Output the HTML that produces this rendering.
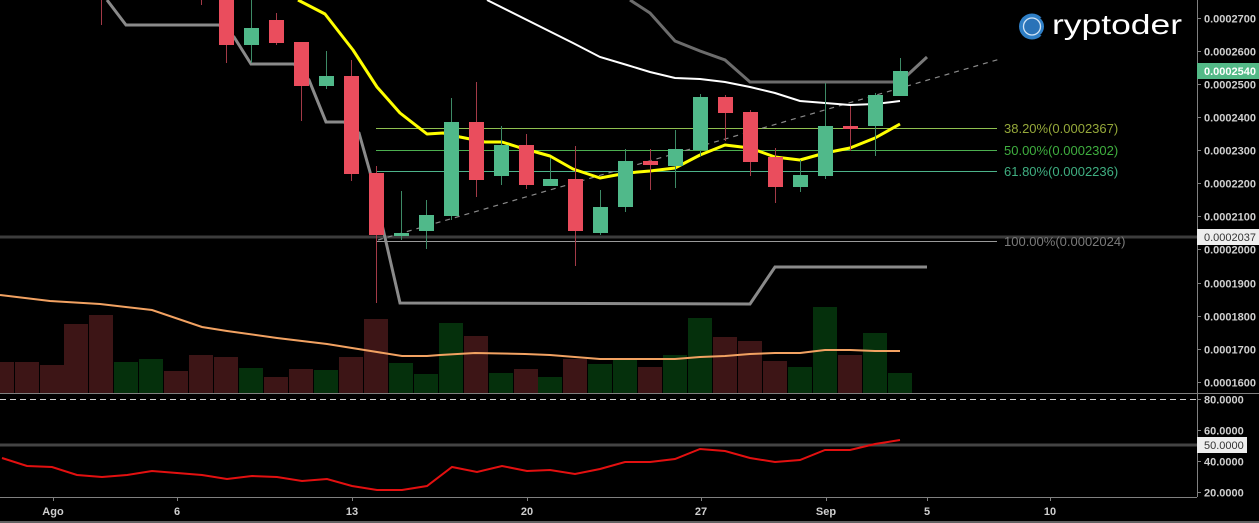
<!DOCTYPE html>
<html><head><meta charset="utf-8"><style>
html,body{margin:0;padding:0;background:#000;}
svg{display:block;}
text{font-family:"Liberation Sans",sans-serif;}
</style></head><body>
<svg width="1259" height="523" viewBox="0 0 1259 523" xmlns="http://www.w3.org/2000/svg">
<rect width="1259" height="523" fill="#000"/>

<!-- volume bars -->
<g>
<rect x="0" y="362" width="14" height="31" fill="#3d1516"/>
<rect x="15" y="362" width="24" height="31" fill="#3d1516"/>
<rect x="40" y="365" width="24" height="28" fill="#3d1516"/>
<rect x="64" y="324" width="24" height="69" fill="#3d1516"/>
<rect x="89" y="315" width="24" height="78" fill="#3d1516"/>
<rect x="114" y="362" width="24" height="31" fill="#05300c"/>
<rect x="139" y="359" width="24" height="34" fill="#05300c"/>
<rect x="164" y="371" width="24" height="22" fill="#3d1516"/>
<rect x="189" y="355" width="24" height="38" fill="#3d1516"/>
<rect x="214" y="357" width="24" height="36" fill="#3d1516"/>
<rect x="239" y="368" width="24" height="25" fill="#05300c"/>
<rect x="264" y="377" width="24" height="16" fill="#3d1516"/>
<rect x="289" y="369" width="24" height="24" fill="#3d1516"/>
<rect x="314" y="370" width="24" height="23" fill="#05300c"/>
<rect x="339" y="357" width="24" height="36" fill="#3d1516"/>
<rect x="364" y="319" width="24" height="74" fill="#3d1516"/>
<rect x="389" y="363" width="24" height="30" fill="#05300c"/>
<rect x="414" y="374" width="24" height="19" fill="#05300c"/>
<rect x="439" y="323" width="24" height="70" fill="#05300c"/>
<rect x="464" y="336" width="24" height="57" fill="#3d1516"/>
<rect x="489" y="373" width="24" height="20" fill="#05300c"/>
<rect x="514" y="369" width="24" height="24" fill="#3d1516"/>
<rect x="538" y="377" width="24" height="16" fill="#05300c"/>
<rect x="563" y="359" width="24" height="34" fill="#3d1516"/>
<rect x="588" y="364" width="24" height="29" fill="#05300c"/>
<rect x="613" y="360" width="24" height="33" fill="#05300c"/>
<rect x="638" y="367" width="24" height="26" fill="#3d1516"/>
<rect x="663" y="355" width="24" height="38" fill="#05300c"/>
<rect x="688" y="318" width="24" height="75" fill="#05300c"/>
<rect x="713" y="337" width="24" height="56" fill="#3d1516"/>
<rect x="738" y="341" width="24" height="52" fill="#3d1516"/>
<rect x="763" y="361" width="24" height="32" fill="#3d1516"/>
<rect x="788" y="367" width="24" height="26" fill="#05300c"/>
<rect x="813" y="307" width="24" height="86" fill="#05300c"/>
<rect x="838" y="355" width="24" height="38" fill="#3d1516"/>
<rect x="863" y="333" width="24" height="60" fill="#05300c"/>
<rect x="888" y="373" width="24" height="20" fill="#05300c"/>
</g>
<!-- volume MA -->
<polyline fill="none" stroke="#f2a262" stroke-width="2" points="0,295 50,301 100,304 152,310 202,327 227,331 277,338 327,344 352,348 377,352 402,356 427,356 440,355 475,353 525,354 550,355 600,359 675,359 700,357 725,356 750,354 775,353 800,353 825,350 850,350 875,351 900,351"/>

<!-- horizontal lines -->
<line x1="0" y1="237" x2="1197" y2="237" stroke="#3c3c3c" stroke-width="3"/>
<line x1="376" y1="241.5" x2="997" y2="241.5" stroke="#9a9a9a" stroke-width="1"/>
<line x1="376" y1="128.5" x2="997" y2="128.5" stroke="#8fc050" stroke-width="1"/>
<line x1="376" y1="150.5" x2="997" y2="150.5" stroke="#4caf50" stroke-width="1"/>
<line x1="376" y1="171.5" x2="997" y2="171.5" stroke="#4db38a" stroke-width="1"/>
<text x="1004" y="133" font-size="13" fill="#95a83a">38.20%(0.0002367)</text>
<text x="1004" y="155" font-size="13" fill="#3fae3f">50.00%(0.0002302)</text>
<text x="1004" y="176" font-size="13" fill="#3fae80">61.80%(0.0002236)</text>
<text x="1004" y="246" font-size="13" fill="#7a7a7a">100.00%(0.0002024)</text>

<!-- trend dashed -->
<line x1="378" y1="240" x2="1000" y2="59" stroke="#8a8a8a" stroke-width="1.2" stroke-dasharray="5,5"/>

<!-- gray lines -->
<polyline fill="none" stroke="#8a8a8a" stroke-width="3" points="107,0 126,25 219,25 234,37 251,64 294,64 309,80 326,122 344,122 359,133 370,172 400,303 750,304 775,267 927,267"/>
<polyline fill="none" stroke="#6c6c6c" stroke-width="3" points="630,0 650,13 675,41 700,51 725,60 750,82 900,82"/>
<polyline fill="none" stroke="#7a7a7a" stroke-width="3" points="900,82 927,57"/>
<!-- white MA -->
<polyline fill="none" stroke="#ffffff" stroke-width="2" points="487,0 553,33 573,43 600,57 627,65 650,72 675,78 700,79 725,82 750,87 775,93 800,101 825,103 850,105 875,104 900,101"/>
<!-- yellow MA -->
<polyline fill="none" stroke="#ffff00" stroke-width="3" stroke-linejoin="round" points="298,0 325,14 353,50 377,87 400,113 427,134 443,133 460,137 485,142 502,142 518,147 550,156 573,169 600,178 627,173 650,171 675,168 700,155 725,145 750,148 775,157 800,160 825,153 850,148 875,138 900,124"/>

<!-- candles -->
<g>
<!-- wicks -->
<g stroke-width="1">
<line x1="101.5" y1="0" x2="101.5" y2="25" stroke="#a33a47"/>
<line x1="201.5" y1="0" x2="201.5" y2="5" stroke="#a33a47"/>
<line x1="226.5" y1="0" x2="226.5" y2="63" stroke="#a33a47"/>
<line x1="251.5" y1="0" x2="251.5" y2="63" stroke="#3d8a66"/>
<line x1="276.5" y1="13" x2="276.5" y2="45" stroke="#a33a47"/>
<line x1="301.5" y1="42" x2="301.5" y2="121" stroke="#a33a47"/>
<line x1="326.5" y1="51" x2="326.5" y2="89" stroke="#3d8a66"/>
<line x1="351.5" y1="60" x2="351.5" y2="181" stroke="#a33a47"/>
<line x1="376.5" y1="166" x2="376.5" y2="303" stroke="#a33a47"/>
<line x1="401.5" y1="191" x2="401.5" y2="240" stroke="#3d8a66"/>
<line x1="426.5" y1="200" x2="426.5" y2="249" stroke="#3d8a66"/>
<line x1="451.5" y1="98" x2="451.5" y2="220" stroke="#3d8a66"/>
<line x1="476.5" y1="82" x2="476.5" y2="197" stroke="#a33a47"/>
<line x1="501.5" y1="126" x2="501.5" y2="185" stroke="#3d8a66"/>
<line x1="526.5" y1="134" x2="526.5" y2="189" stroke="#a33a47"/>
<line x1="550.5" y1="158" x2="550.5" y2="186" stroke="#3d8a66"/>
<line x1="575.5" y1="146" x2="575.5" y2="266" stroke="#a33a47"/>
<line x1="600.5" y1="190" x2="600.5" y2="235" stroke="#3d8a66"/>
<line x1="625.5" y1="149" x2="625.5" y2="212" stroke="#3d8a66"/>
<line x1="650.5" y1="149" x2="650.5" y2="190" stroke="#a33a47"/>
<line x1="675.5" y1="130" x2="675.5" y2="188" stroke="#3d8a66"/>
<line x1="700.5" y1="94" x2="700.5" y2="156" stroke="#3d8a66"/>
<line x1="725.5" y1="95" x2="725.5" y2="141" stroke="#a33a47"/>
<line x1="750.5" y1="110" x2="750.5" y2="176" stroke="#a33a47"/>
<line x1="775.5" y1="148" x2="775.5" y2="203" stroke="#a33a47"/>
<line x1="800.5" y1="160" x2="800.5" y2="192" stroke="#3d8a66"/>
<line x1="825.5" y1="83" x2="825.5" y2="179" stroke="#3d8a66"/>
<line x1="850.5" y1="106" x2="850.5" y2="151" stroke="#a33a47"/>
<line x1="875.5" y1="93" x2="875.5" y2="156" stroke="#3d8a66"/>
<line x1="900.5" y1="58" x2="900.5" y2="96" stroke="#3d8a66"/>
</g>
<!-- bodies -->
<rect x="219" y="0" width="15" height="45" fill="#ea4d5d"/>
<rect x="244" y="28" width="15" height="17" fill="#50b98a"/>
<rect x="269" y="20" width="15" height="23" fill="#ea4d5d"/>
<rect x="294" y="42" width="15" height="44" fill="#ea4d5d"/>
<rect x="319" y="76" width="15" height="10" fill="#50b98a"/>
<rect x="344" y="76" width="15" height="98" fill="#ea4d5d"/>
<rect x="369" y="173" width="15" height="62" fill="#ea4d5d"/>
<rect x="394" y="233" width="15" height="3" fill="#50b98a"/>
<rect x="419" y="215" width="15" height="16" fill="#50b98a"/>
<rect x="444" y="122" width="15" height="94" fill="#50b98a"/>
<rect x="469" y="122" width="15" height="58" fill="#ea4d5d"/>
<rect x="494" y="145" width="15" height="31" fill="#50b98a"/>
<rect x="519" y="145" width="15" height="40" fill="#ea4d5d"/>
<rect x="543" y="179" width="15" height="7" fill="#50b98a"/>
<rect x="568" y="179" width="15" height="52" fill="#ea4d5d"/>
<rect x="593" y="207" width="15" height="26" fill="#50b98a"/>
<rect x="618" y="161" width="15" height="46" fill="#50b98a"/>
<rect x="643" y="161" width="15" height="4" fill="#ea4d5d"/>
<rect x="668" y="149" width="15" height="17" fill="#50b98a"/>
<rect x="693" y="97" width="15" height="53" fill="#50b98a"/>
<rect x="718" y="97" width="15" height="16" fill="#ea4d5d"/>
<rect x="743" y="112" width="15" height="50" fill="#ea4d5d"/>
<rect x="768" y="157" width="15" height="30" fill="#ea4d5d"/>
<rect x="793" y="175" width="15" height="12" fill="#50b98a"/>
<rect x="818" y="126" width="15" height="50" fill="#50b98a"/>
<rect x="843" y="126" width="15" height="3" fill="#ea4d5d"/>
<rect x="868" y="95" width="15" height="31" fill="#50b98a"/>
<rect x="893" y="71" width="15" height="25" fill="#50b98a"/>
</g>

<!-- RSI panel -->
<line x1="0" y1="399.5" x2="1197" y2="399.5" stroke="#cfcfcf" stroke-width="1" stroke-dasharray="6,4"/>
<line x1="0" y1="445" x2="1197" y2="445" stroke="#444" stroke-width="3"/>
<polyline fill="none" stroke="#e31010" stroke-width="2" points="2,458 27,466 52,467 77,475 102,477 127,475 152,471 177,473 202,475 227,479 252,476 277,477 302,481 327,479 352,486 377,490 402,490 427,486 452,467 477,472 502,466 527,471 550,470 575,474 600,469 625,462 650,462 675,459 700,449 725,451 750,458 775,462 800,460 825,450 850,450 875,444 900,440"/>

<!-- frame lines -->
<line x1="0" y1="393.5" x2="1259" y2="393.5" stroke="#808080" stroke-width="1"/>
<line x1="0" y1="497.5" x2="1197" y2="497.5" stroke="#808080" stroke-width="1"/>
<line x1="0" y1="522" x2="1259" y2="522" stroke="#808080" stroke-width="1.5"/>
<line x1="1197.5" y1="0" x2="1197.5" y2="497" stroke="#808080" stroke-width="1"/>

<!-- price axis ticks -->
<g stroke="#808080" stroke-width="1">
<line x1="1197" y1="18.5" x2="1201" y2="18.5"/>
<line x1="1197" y1="51.5" x2="1201" y2="51.5"/>
<line x1="1197" y1="84.5" x2="1201" y2="84.5"/>
<line x1="1197" y1="117.5" x2="1201" y2="117.5"/>
<line x1="1197" y1="150.5" x2="1201" y2="150.5"/>
<line x1="1197" y1="183.5" x2="1201" y2="183.5"/>
<line x1="1197" y1="216.5" x2="1201" y2="216.5"/>
<line x1="1197" y1="249.5" x2="1201" y2="249.5"/>
<line x1="1197" y1="283.5" x2="1201" y2="283.5"/>
<line x1="1197" y1="316.5" x2="1201" y2="316.5"/>
<line x1="1197" y1="349.5" x2="1201" y2="349.5"/>
<line x1="1197" y1="382.5" x2="1201" y2="382.5"/>
<line x1="1197" y1="399.5" x2="1201" y2="399.5"/>
<line x1="1197" y1="430.5" x2="1201" y2="430.5"/>
<line x1="1197" y1="461.5" x2="1201" y2="461.5"/>
<line x1="1197" y1="492.5" x2="1201" y2="492.5"/>
<line x1="53.5" y1="497" x2="53.5" y2="501"/>
<line x1="177.5" y1="497" x2="177.5" y2="501"/>
<line x1="352.5" y1="497" x2="352.5" y2="501"/>
<line x1="527.5" y1="497" x2="527.5" y2="501"/>
<line x1="701.5" y1="497" x2="701.5" y2="501"/>
<line x1="826.5" y1="497" x2="826.5" y2="501"/>
<line x1="927.5" y1="497" x2="927.5" y2="501"/>
<line x1="1050.5" y1="497" x2="1050.5" y2="501"/>
</g>

<g font-size="11" font-weight="bold" fill="#cfcfcf">
<text x="1204" y="22.5">0.0002700</text>
<text x="1204" y="55.5">0.0002600</text>
<text x="1204" y="88.5">0.0002500</text>
<text x="1204" y="121.5">0.0002400</text>
<text x="1204" y="154.5">0.0002300</text>
<text x="1204" y="187.5">0.0002200</text>
<text x="1204" y="220.5">0.0002100</text>
<text x="1204" y="253.5">0.0002000</text>
<text x="1204" y="287.5">0.0001900</text>
<text x="1204" y="320.5">0.0001800</text>
<text x="1204" y="353.5">0.0001700</text>
<text x="1204" y="386.5">0.0001600</text>
<text x="1204" y="403.5">80.0000</text>
<text x="1204" y="434.5">60.0000</text>
<text x="1204" y="465.5">40.0000</text>
<text x="1204" y="496.5">20.0000</text>
</g>
<!-- highlighted labels -->
<rect x="1197" y="63" width="62" height="16" fill="#53b987"/>
<text x="1204" y="75" font-size="11" font-weight="bold" fill="#ffffff">0.0002540</text>
<rect x="1197" y="229" width="62" height="16" fill="#eeeeee"/>
<text x="1204" y="241" font-size="11" fill="#333">0.0002037</text>
<rect x="1197" y="437" width="50" height="16" fill="#eeeeee"/>
<text x="1204" y="449" font-size="11" fill="#333">50.0000</text>

<!-- x labels -->
<g font-size="11" font-weight="bold" fill="#cfcfcf" text-anchor="middle">
<text x="53" y="515">Ago</text>
<text x="177" y="515">6</text>
<text x="352" y="515">13</text>
<text x="527" y="515">20</text>
<text x="701" y="515">27</text>
<text x="826" y="515">Sep</text>
<text x="927" y="515">5</text>
<text x="1050" y="515">10</text>
</g>

<!-- logo -->
<g>
<circle cx="1032" cy="26.5" r="13" fill="#2f7fc6"/>
<circle cx="1032" cy="26.5" r="8.5" fill="#2a73b8" stroke="#cfe3f5" stroke-width="1.3"/>
<path d="M1040,18 L1047,16 L1047,37 L1040,35 A11,11 0 0 0 1040,18 Z" fill="#000"/>
<text x="1052" y="34" font-size="28" fill="#ffffff" textLength="130" lengthAdjust="spacingAndGlyphs">ryptoder</text>
</g>
</svg>
</body></html>
